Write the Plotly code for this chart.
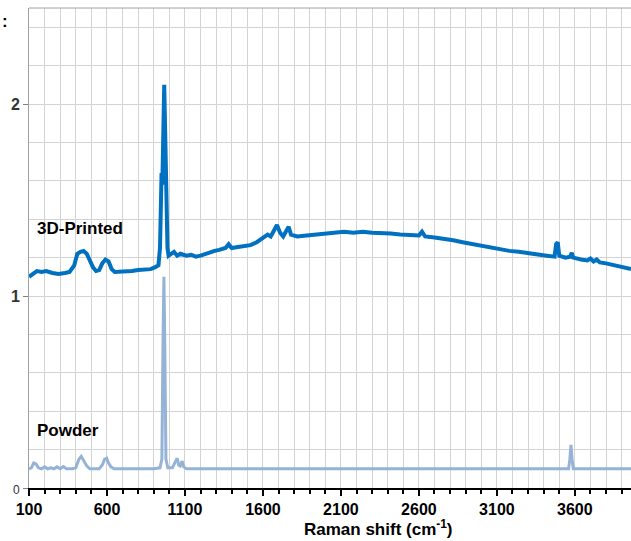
import plotly.graph_objects as go

printed_x = [100, 120, 150, 180, 210, 250, 290, 330, 360, 390, 410, 430, 450, 470, 490, 510, 530, 550, 570, 590,
             610, 630, 650, 680, 720, 760, 800, 840, 880, 910, 930, 940, 946, 950, 955, 962, 967, 972, 980, 988, 995,
             1010, 1030, 1050, 1070, 1090, 1110, 1140, 1170, 1200, 1230, 1260, 1290, 1320, 1360, 1380, 1400, 1440,
             1480, 1520, 1560, 1600, 1630, 1650, 1670, 1690, 1710, 1730, 1750, 1765, 1780, 1820, 1880, 1940, 2000,
             2060, 2120, 2180, 2240, 2300, 2360, 2420, 2480, 2540, 2600, 2620, 2640, 2700, 2760, 2820, 2880, 2940,
             3000, 3060, 3120, 3180, 3240, 3300, 3360, 3420, 3470, 3480, 3490, 3500, 3540, 3570, 3580, 3590, 3640,
             3680, 3700, 3720, 3740, 3760, 3800, 3850, 3900, 3960]
printed_y = [1.10, 1.11, 1.13, 1.125, 1.13, 1.12, 1.115, 1.12, 1.125, 1.16, 1.22, 1.23, 1.235, 1.22, 1.18, 1.15,
             1.13, 1.135, 1.17, 1.19, 1.18, 1.14, 1.125, 1.125, 1.13, 1.13, 1.135, 1.14, 1.14, 1.15, 1.16, 1.25,
             1.60, 1.64, 1.58, 2.00, 2.10, 1.90, 1.45, 1.25, 1.21, 1.22, 1.23, 1.21, 1.22, 1.215, 1.21, 1.215, 1.205,
             1.21, 1.22, 1.23, 1.235, 1.24, 1.25, 1.27, 1.25, 1.255, 1.26, 1.265, 1.28, 1.30, 1.32, 1.31, 1.34,
             1.37, 1.33, 1.31, 1.34, 1.36, 1.32, 1.31, 1.315, 1.32, 1.325, 1.33, 1.335, 1.33, 1.335, 1.33, 1.33,
             1.325, 1.32, 1.315, 1.315, 1.335, 1.31, 1.305, 1.30, 1.29, 1.28, 1.27, 1.26, 1.255, 1.245, 1.235,
             1.23, 1.225, 1.215, 1.21, 1.205, 1.27, 1.28, 1.21, 1.20, 1.205, 1.225, 1.20, 1.19, 1.185, 1.195,
             1.18, 1.19, 1.175, 1.17, 1.16, 1.15, 1.14]

powder_x = [100, 115, 130, 145, 160, 180, 200, 220, 240, 260, 280, 300, 320, 340, 360, 380, 400, 420, 435, 450,
            470, 490, 520, 550, 570, 585, 598, 610, 625, 645, 700, 800, 900, 940, 952, 960, 965, 970, 978, 990,
            1020, 1040, 1050, 1060, 1070, 1082, 1092, 1110, 1400, 2000, 2900, 3000, 3200, 3560, 3568, 3575, 3582,
            3590, 3960]
powder_y = [0.10, 0.105, 0.13, 0.125, 0.105, 0.10, 0.11, 0.10, 0.105, 0.10, 0.11, 0.10, 0.112, 0.10, 0.10, 0.10,
            0.105, 0.15, 0.165, 0.14, 0.115, 0.10, 0.10, 0.10, 0.12, 0.15, 0.155, 0.13, 0.11, 0.10, 0.10, 0.10,
            0.10, 0.105, 0.15, 0.80, 1.10, 0.80, 0.15, 0.105, 0.105, 0.14, 0.155, 0.12, 0.115, 0.14, 0.11, 0.10,
            0.10, 0.10, 0.10, 0.102, 0.10, 0.10, 0.15, 0.225, 0.15, 0.10, 0.10]

x_tick_vals = [100, 600, 1100, 1600, 2100, 2600, 3100, 3600]
x_tick_text = ["<b>%d</b>" % v for v in x_tick_vals]
y_tick_vals = [0, 1, 2]
y_tick_text = ["<span style='font-size:12px'>0</span>", "<b>1</b>", "<b>2</b>"]

FONT = "Arial, Liberation Sans, sans-serif"

fig = go.Figure()
fig.add_trace(go.Scatter(x=powder_x, y=powder_y, mode="lines", name="Powder",
                         line=dict(color="#95B3D7", width=3)))
fig.add_trace(go.Scatter(x=printed_x, y=printed_y, mode="lines", name="3D-Printed",
                         line=dict(color="#0070C0", width=4)))

fig.add_annotation(x=138, y=1.354, text="<b>3D-Printed</b>", showarrow=False, xanchor="left", yanchor="middle",
                   font=dict(family=FONT, size=17, color="black"))
fig.add_annotation(x=138, y=0.297, text="<b>Powder</b>", showarrow=False, xanchor="left", yanchor="middle",
                   font=dict(family=FONT, size=17, color="black"))
fig.add_annotation(xref="paper", yref="paper", x=-0.048, y=0.971, text="<b>:</b>", showarrow=False,
                   xanchor="left", yanchor="middle", font=dict(family=FONT, size=17, color="black"))
# x-axis title (the original plot area extends beyond the cropped right edge, so it is off-centre)
fig.add_annotation(xref="paper", yref="paper", x=0.581, y=-0.083, text="<b>Raman shift (cm<sup>-1</sup>)</b>",
                   showarrow=False, xanchor="center", yanchor="middle",
                   font=dict(family=FONT, size=17, color="black"))

# top border of plot area
fig.add_shape(type="line", xref="paper", yref="paper", x0=0, x1=1, y0=1, y1=1,
              line=dict(color="#a0a0a0", width=1))

fig.update_layout(
    width=631, height=541,
    margin=dict(l=29, r=0, t=8, b=53),
    paper_bgcolor="white", plot_bgcolor="white",
    showlegend=False,
    font=dict(family=FONT, color="black"),
    xaxis=dict(
        range=[100, 3960], tickmode="array", tickvals=x_tick_vals, ticktext=x_tick_text,
        ticks="outside", ticklen=6, tickwidth=2, tickcolor="black",
        tickfont=dict(family=FONT, size=16, color="black"),
        showline=True, linecolor="black", linewidth=2,
        showgrid=True, gridcolor="#d3d3d3", gridwidth=1,
        minor=dict(dtick=100, tick0=100, ticks="outside", ticklen=4, tickwidth=2, tickcolor="black",
                   showgrid=True, gridcolor="#d3d3d3", gridwidth=1),
        zeroline=False,
    ),
    yaxis=dict(
        range=[0, 2.5], tickmode="array", tickvals=y_tick_vals, ticktext=y_tick_text,
        ticks="outside", ticklen=5, tickwidth=1, tickcolor="#808080",
        tickfont=dict(family=FONT, size=16, color="#333333"),
        showline=True, linecolor="#a0a0a0", linewidth=1,
        showgrid=True, gridcolor="#d3d3d3", gridwidth=1,
        minor=dict(dtick=0.2, tick0=0, showgrid=True, gridcolor="#d3d3d3", gridwidth=1),
        zeroline=False,
    ),
)

fig.write_html("out.html")
